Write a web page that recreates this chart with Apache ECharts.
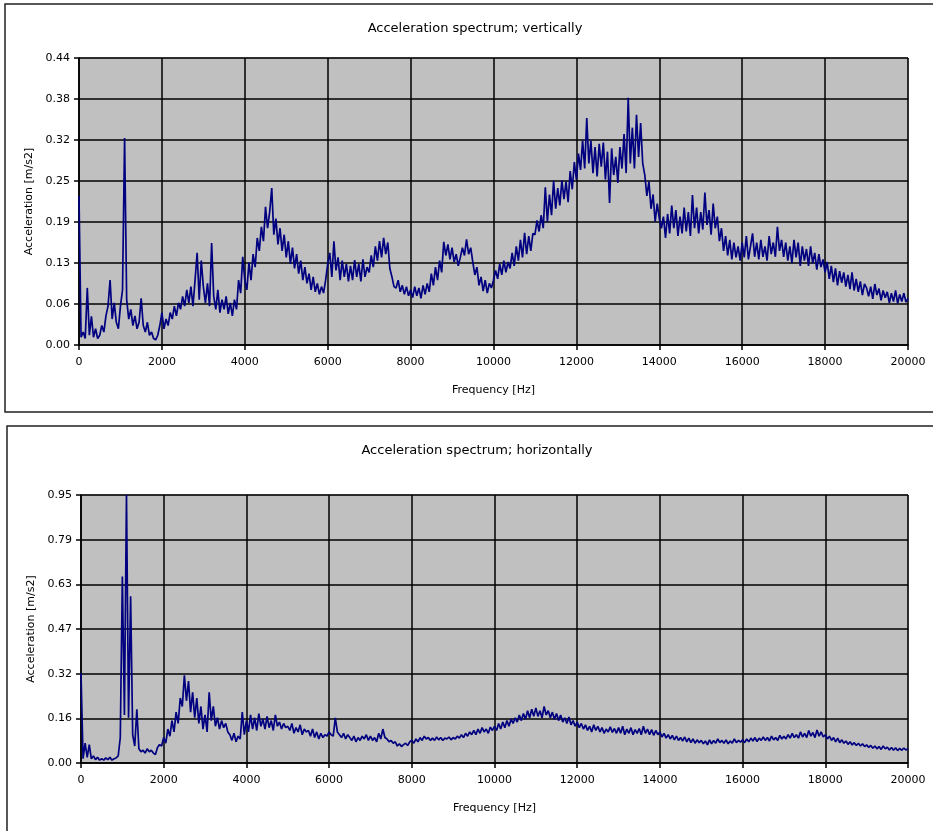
<!DOCTYPE html>
<html>
<head>
<meta charset="utf-8">
<script src="https://cdn.jsdelivr.net/npm/echarts@6/dist/echarts.min.js"></script>
<style>html,body{margin:0;padding:0;background:#fff}#c{width:933px;height:831px}</style>
</head>
<body>
<div id="c"></div>
<script>
// Frequency resolution of the sampled spectra (Hz per sample), 0..20000 Hz
const freqStepHz = 50;

const xTickLabels = ['0','2000','4000','6000','8000','10000','12000','14000','16000','18000','20000'];
const vertTickLabels = ['0.00','0.06','0.13','0.19','0.25','0.32','0.38','0.44'];
const horzTickLabels = ['0.00','0.16','0.32','0.47','0.63','0.79','0.95'];

// Acceleration spectrum, vertical (m/s2), one value per 50 Hz
const vertical = [
0.230,0.012,0.020,0.010,0.088,0.015,0.044,0.012,0.025,0.010,
0.015,0.030,0.020,0.045,0.060,0.100,0.040,0.065,0.035,0.025,
0.060,0.085,0.319,0.070,0.040,0.055,0.030,0.045,0.025,0.035,
0.072,0.030,0.020,0.035,0.015,0.020,0.010,0.008,0.015,0.030,
0.050,0.025,0.040,0.030,0.050,0.040,0.060,0.045,0.065,0.055,
0.075,0.060,0.085,0.065,0.090,0.060,0.100,0.142,0.070,0.130,
0.090,0.065,0.095,0.060,0.157,0.075,0.055,0.085,0.050,0.070,
0.055,0.075,0.048,0.065,0.045,0.070,0.055,0.100,0.080,0.136,
0.100,0.085,0.127,0.100,0.140,0.120,0.165,0.145,0.182,0.160,
0.213,0.180,0.205,0.242,0.170,0.195,0.155,0.180,0.145,0.170,
0.135,0.160,0.125,0.150,0.118,0.140,0.110,0.130,0.100,0.120,
0.095,0.110,0.085,0.105,0.082,0.095,0.078,0.090,0.080,0.100,
0.125,0.142,0.105,0.160,0.115,0.135,0.100,0.130,0.105,0.125,
0.098,0.122,0.100,0.131,0.105,0.125,0.098,0.132,0.105,0.120,
0.112,0.138,0.120,0.152,0.130,0.160,0.135,0.165,0.140,0.158,
0.118,0.105,0.090,0.088,0.100,0.082,0.092,0.078,0.090,0.076,
0.085,0.073,0.090,0.076,0.088,0.072,0.092,0.078,0.095,0.082,
0.110,0.092,0.120,0.100,0.130,0.112,0.159,0.138,0.155,0.132,
0.150,0.128,0.140,0.122,0.135,0.150,0.138,0.163,0.140,0.150,
0.128,0.108,0.120,0.092,0.105,0.083,0.100,0.080,0.095,0.088,
0.100,0.115,0.102,0.125,0.108,0.130,0.112,0.128,0.118,0.142,
0.122,0.152,0.130,0.162,0.135,0.173,0.140,0.168,0.145,0.172,
0.170,0.192,0.175,0.200,0.180,0.243,0.190,0.232,0.200,0.253,
0.210,0.242,0.215,0.254,0.225,0.252,0.220,0.268,0.240,0.282,
0.255,0.295,0.270,0.315,0.272,0.350,0.280,0.315,0.265,0.305,
0.260,0.310,0.275,0.312,0.255,0.298,0.219,0.303,0.262,0.290,
0.250,0.305,0.272,0.325,0.265,0.381,0.280,0.335,0.272,0.355,
0.290,0.342,0.280,0.262,0.230,0.252,0.210,0.232,0.190,0.218,
0.195,0.180,0.198,0.165,0.202,0.172,0.215,0.180,0.208,0.168,
0.198,0.172,0.212,0.175,0.205,0.168,0.231,0.180,0.212,0.172,
0.205,0.178,0.235,0.185,0.208,0.170,0.218,0.180,0.198,0.160,
0.180,0.145,0.168,0.138,0.162,0.132,0.158,0.135,0.152,0.130,
0.158,0.135,0.168,0.132,0.152,0.172,0.136,0.158,0.132,0.162,
0.136,0.152,0.130,0.168,0.140,0.158,0.136,0.182,0.145,0.162,
0.136,0.158,0.130,0.152,0.126,0.162,0.135,0.158,0.122,0.152,
0.130,0.148,0.122,0.152,0.126,0.142,0.116,0.140,0.120,0.132,
0.112,0.128,0.102,0.122,0.097,0.118,0.092,0.114,0.096,0.112,
0.090,0.108,0.086,0.112,0.084,0.102,0.082,0.098,0.077,0.094,
0.088,0.075,0.090,0.071,0.094,0.077,0.087,0.069,0.084,0.073,
0.082,0.065,0.080,0.067,0.084,0.064,0.078,0.067,0.080,0.066,
0.072
];

// Acceleration spectrum, horizontal (m/s2), one value per 50 Hz
const horizontal = [
0.318,0.015,0.070,0.020,0.065,0.015,0.025,0.012,0.020,0.010,
0.015,0.010,0.018,0.012,0.020,0.010,0.015,0.018,0.025,0.090,
0.660,0.170,0.948,0.160,0.590,0.100,0.060,0.190,0.050,0.040,
0.045,0.035,0.050,0.040,0.045,0.035,0.030,0.055,0.065,0.060,
0.090,0.070,0.120,0.095,0.150,0.110,0.180,0.140,0.230,0.200,
0.310,0.220,0.290,0.180,0.250,0.160,0.230,0.140,0.200,0.120,
0.170,0.110,0.250,0.150,0.200,0.130,0.160,0.120,0.150,0.125,
0.140,0.110,0.100,0.080,0.105,0.075,0.095,0.085,0.180,0.100,
0.150,0.110,0.170,0.120,0.160,0.115,0.175,0.130,0.155,0.120,
0.165,0.125,0.150,0.115,0.170,0.130,0.145,0.120,0.140,0.125,
0.130,0.115,0.140,0.105,0.125,0.110,0.135,0.100,0.120,0.110,
0.115,0.095,0.120,0.090,0.110,0.085,0.105,0.090,0.100,0.095,
0.110,0.100,0.095,0.160,0.110,0.100,0.090,0.105,0.085,0.100,
0.090,0.080,0.095,0.075,0.090,0.080,0.095,0.085,0.100,0.080,
0.095,0.080,0.090,0.075,0.105,0.085,0.120,0.090,0.085,0.075,
0.080,0.070,0.075,0.060,0.068,0.058,0.065,0.070,0.062,0.075,
0.080,0.070,0.085,0.075,0.090,0.080,0.095,0.085,0.090,0.080,
0.088,0.080,0.092,0.082,0.090,0.080,0.088,0.085,0.092,0.082,
0.090,0.085,0.095,0.088,0.100,0.090,0.105,0.095,0.110,0.100,
0.115,0.100,0.120,0.105,0.125,0.110,0.120,0.105,0.127,0.115,
0.130,0.115,0.140,0.120,0.145,0.125,0.150,0.130,0.155,0.140,
0.160,0.145,0.170,0.150,0.175,0.155,0.185,0.160,0.190,0.165,
0.195,0.165,0.185,0.160,0.200,0.170,0.185,0.160,0.180,0.155,
0.175,0.150,0.170,0.145,0.160,0.140,0.163,0.135,0.150,0.130,
0.145,0.125,0.140,0.120,0.135,0.115,0.130,0.110,0.135,0.115,
0.130,0.110,0.125,0.105,0.120,0.110,0.128,0.108,0.122,0.105,
0.125,0.105,0.130,0.100,0.120,0.105,0.125,0.100,0.118,0.105,
0.122,0.100,0.130,0.105,0.120,0.100,0.118,0.098,0.115,0.100,
0.110,0.092,0.105,0.088,0.100,0.085,0.098,0.082,0.095,0.080,
0.090,0.078,0.092,0.075,0.088,0.072,0.085,0.070,0.082,0.072,
0.080,0.068,0.078,0.064,0.082,0.068,0.080,0.070,0.085,0.072,
0.080,0.070,0.082,0.068,0.078,0.070,0.085,0.072,0.080,0.074,
0.082,0.072,0.085,0.075,0.088,0.078,0.090,0.076,0.088,0.080,
0.092,0.080,0.090,0.078,0.095,0.082,0.090,0.080,0.098,0.085,
0.095,0.085,0.100,0.088,0.105,0.090,0.100,0.088,0.110,0.092,
0.105,0.090,0.115,0.095,0.108,0.090,0.117,0.095,0.110,0.092,
0.100,0.085,0.095,0.080,0.090,0.075,0.088,0.072,0.082,0.070,
0.078,0.066,0.075,0.064,0.072,0.062,0.070,0.060,0.068,0.058,
0.064,0.055,0.062,0.052,0.060,0.050,0.058,0.048,0.060,0.050,
0.056,0.046,0.055,0.045,0.054,0.044,0.052,0.045,0.053,0.046,
0.050
];

const toPairs = arr => arr.map((v, i) => [i * freqStepHz, v]);

const FONT = 'DejaVu Sans';
const vertInterval = 0.0632, horzInterval = 0.158;

function xAxisCfg(gi){
  return {
    type:'value', gridIndex:gi, min:0, max:20000, interval:2000,
    name:'Frequency [Hz]', nameLocation:'middle', nameGap:40,
    nameTextStyle:{fontFamily:FONT,fontSize:11,color:'#000'},
    axisLine:{show:true,lineStyle:{color:'#000',width:1.5}},
    axisTick:{show:true,inside:false,length:5,lineStyle:{color:'#000',width:1.5}},
    axisLabel:{fontFamily:FONT,fontSize:11,color:'#000',margin:12,formatter:(v)=>xTickLabels[Math.round(v/2000)]},
    splitLine:{show:true,lineStyle:{color:'#000',width:1.5}}
  };
}
function yAxisCfg(gi,max,interval,labels){
  return {
    type:'value', gridIndex:gi, min:0, max:max, interval:interval,
    name:'Acceleration [m/s2]', nameLocation:'middle', nameGap:44,
    nameTextStyle:{fontFamily:FONT,fontSize:11,color:'#000'},
    axisLine:{show:true,lineStyle:{color:'#000',width:1.5}},
    axisTick:{show:true,inside:false,length:5,lineStyle:{color:'#000',width:1.5}},
    axisLabel:{fontFamily:FONT,fontSize:11,color:'#000',margin:9,formatter:(v)=>labels[Math.round(v/interval)]},
    splitLine:{show:true,lineStyle:{color:'#000',width:1.5}}
  };
}

const chart = echarts.init(document.getElementById('c'), null, {renderer:'canvas'});
chart.setOption({
  animation:false,
  backgroundColor:'#fff',
  title:[
    {text:'Acceleration spectrum; vertically', left:470, top:17, textAlign:'center',
     textStyle:{fontFamily:FONT,fontSize:13,fontWeight:'normal',color:'#000'}},
    {text:'Acceleration spectrum; horizontally', left:472, top:439, textAlign:'center',
     textStyle:{fontFamily:FONT,fontSize:13,fontWeight:'normal',color:'#000'}}
  ],
  graphic:[
    {type:'rect', shape:{x:5,y:4,width:940,height:408}, style:{fill:null,stroke:'#222',lineWidth:1.5}, z:-10},
    {type:'rect', shape:{x:7,y:426,width:940,height:420}, style:{fill:null,stroke:'#222',lineWidth:1.5}, z:-10}
  ],
  grid:[
    {left:79, top:58, width:829, height:287, show:true, backgroundColor:'#c0c0c0', borderColor:'#808080', borderWidth:1, containLabel:false},
    {left:81, top:495, width:827, height:268, show:true, backgroundColor:'#c0c0c0', borderColor:'#808080', borderWidth:1, containLabel:false}
  ],
  xAxis:[xAxisCfg(0), xAxisCfg(1)],
  yAxis:[
    yAxisCfg(0, 0.4424, vertInterval, vertTickLabels),
    yAxisCfg(1, 0.948, horzInterval, horzTickLabels)
  ],
  series:[
    {type:'line', xAxisIndex:0, yAxisIndex:0, data:toPairs(vertical), showSymbol:false, symbol:'none',
     lineStyle:{color:'#000080',width:1.7}, sampling:null, z:5},
    {type:'line', xAxisIndex:1, yAxisIndex:1, data:toPairs(horizontal), showSymbol:false, symbol:'none',
     lineStyle:{color:'#000080',width:1.7}, sampling:null, z:5}
  ]
});
</script>
</body>
</html>
